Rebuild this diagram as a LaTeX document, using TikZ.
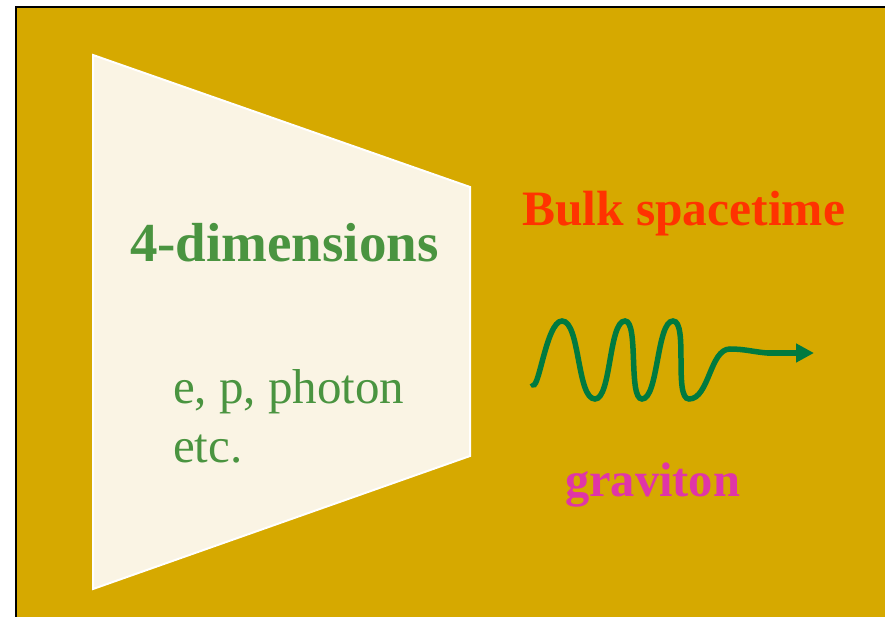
\documentclass[tikz,border=0pt]{standalone}
\usepackage{fontspec}
\setmainfont{Liberation Serif}
\usetikzlibrary{arrows.meta}
\definecolor{bggold}{HTML}{D6A900}
\definecolor{paper}{HTML}{FAF4E4}
\definecolor{txtgreen}{HTML}{4A9440}
\definecolor{bulkred}{HTML}{FF3300}
\definecolor{gravpink}{HTML}{E035A8}
\definecolor{wavegreen}{HTML}{007A40}
\tikzset{
  lbl/.style={anchor=base west, inner sep=0pt, outer sep=0pt},
  wave/.style={wavegreen, line width=5.5pt, line cap=butt},
}
\begin{document}
\begin{tikzpicture}[x=1pt,y=-1pt]
\useasboundingbox (0,0) rectangle (885,617);
\fill[white] (0,0) rectangle (885,617);
\fill[bggold] (16,7) rectangle (885,617);
\draw[black, line width=2pt] (16,617) -- (16,7) -- (885,7);
% brane
\filldraw[fill=paper, draw=white, line width=2pt]
  (93,55) -- (470,187) -- (470,456) -- (93,589) -- cycle;
% texts
\node[lbl, font=\fontsize{55}{60}\selectfont\bfseries, text=txtgreen] (dim) at (130,262) {4-dimensions};
\node[lbl, font=\fontsize{49}{55}\selectfont, text=txtgreen] (ep) at (173,403) {e, p, photon};
\node[lbl, font=\fontsize{49}{55}\selectfont, text=txtgreen] (etc) at (173,462) {etc.};
\node[lbl, font=\fontsize{49.5}{55}\selectfont\bfseries, text=bulkred] (bulk) at (522,226) {Bulk spacetime};
\node[lbl, font=\fontsize{48.5}{54}\selectfont\bfseries, text=gravpink] (grav) at (565,496) {graviton};
% graviton wave
\coordinate (w0) at (532,383);
\coordinate (w1) at (562,321);
\coordinate (w2) at (595,399);
\coordinate (w3) at (625,321);
\coordinate (w4) at (642,399);
\coordinate (w5) at (673,321);
\coordinate (w6) at (689,399);
\coordinate (w7) at (730,349);
\coordinate (w8) at (767,353);
\coordinate (tip) at (814,353);
\draw[wave] (w0) to[out=-68,in=180,looseness=0.6] (w1)
  to[out=0,in=180,looseness=0.55] (w2)
  to[out=0,in=180,looseness=0.5] (w3) to[out=0,in=180,looseness=0.45] (w4)
  to[out=0,in=180,looseness=0.5] (w5)
  to[out=0,in=180,looseness=0.5] (w6) to[out=0,in=180,looseness=0.8] (w7)
  to[out=0,in=175] (w8);
\draw[wave, -{Triangle[length=18pt,width=18pt]}] (w8) -- (tip);
\end{tikzpicture}
\end{document}
